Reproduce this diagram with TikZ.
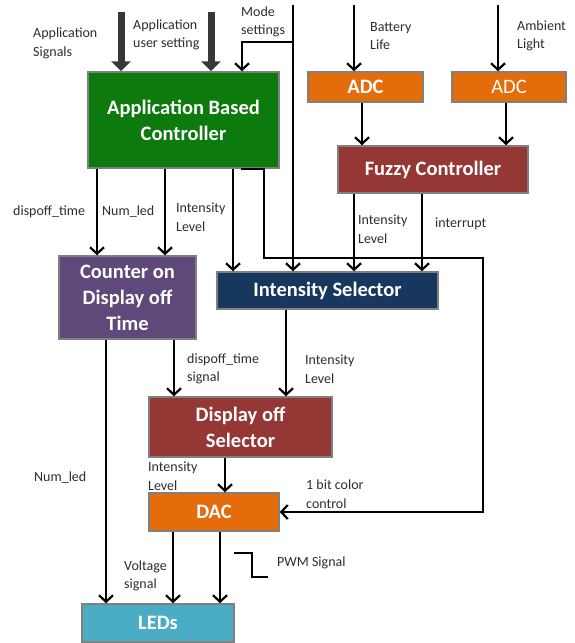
\documentclass[tikz,border=0pt]{standalone}
\usepackage{fontspec}
\setmainfont{Carlito}
\usetikzlibrary{arrows.meta}
\definecolor{appgreen}{RGB}{12,122,12}
\definecolor{adcorange}{RGB}{228,108,10}
\definecolor{ctrlred}{RGB}{149,55,53}
\definecolor{cntpurple}{RGB}{95,73,122}
\definecolor{selnavy}{RGB}{23,55,94}
\definecolor{ledaqua}{RGB}{75,172,198}
\definecolor{boxgray}{RGB}{128,128,128}
\definecolor{busgray}{RGB}{55,55,55}
\definecolor{lbltext}{RGB}{45,45,45}
\tikzset{
  blk/.style={draw=boxgray,line width=1.5pt,text=white,align=center,inner sep=2pt,
    font=\fontsize{20.5}{26}\selectfont\bfseries},
  lbl/.style={anchor=west,align=left,inner sep=0pt,text=lbltext,
    font=\fontsize{14}{18.5}\selectfont},
  sig/.style={line width=2.2pt,-{Straight Barb[length=6.5pt,width=14pt,line width=2.2pt]}},
  bus/.style={line width=7pt,draw=busgray,-{Triangle[length=10pt,width=19pt]}}
}
\begin{document}
\begin{tikzpicture}[x=1pt,y=-1pt]
	\useasboundingbox (0,0) rectangle (574,643);
	% blocks
	\node[blk,fill=appgreen,minimum width=191pt,minimum height=96pt] (abc) at (183.5,120) {Application Based\\Controller};
	\node[blk,fill=adcorange,minimum width=115pt,minimum height=30pt] (adcb) at (365.5,87) {ADC};
	\node[blk,fill=adcorange,minimum width=114pt,minimum height=30pt,font=\fontsize{20.5}{26}\selectfont] (adca) at (509,87) {ADC};
	\node[blk,fill=ctrlred,minimum width=190pt,minimum height=47pt] (fuzzy) at (433,169.5) {Fuzzy Controller};
	\node[blk,fill=cntpurple,minimum width=137pt,minimum height=83pt] (cnt) at (127.5,297.5) {Counter on\\Display off\\Time};
	\node[blk,fill=selnavy,minimum width=221pt,minimum height=37pt] (insel) at (327.5,290.5) {Intensity Selector};
	\node[blk,fill=ctrlred,minimum width=183pt,minimum height=60pt] (dos) at (240.5,427) {Display off\\Selector};
	\node[blk,fill=adcorange,minimum width=130pt,minimum height=38pt] (dac) at (214,512) {DAC};
	\node[blk,fill=ledaqua,minimum width=152pt,minimum height=38pt] (leds) at (158,623) {LEDs};
	% inputs
	\coordinate (appsig) at (121,12);
	\coordinate (appusr) at (211,12);
	\coordinate (mode) at (293,5);
	\coordinate (batt) at (354,5);
	\coordinate (amb) at (498,5);
	\draw[bus] (appsig) -- (appsig |- abc.north);
	\draw[bus] (appusr) -- (appusr |- abc.north);
	\draw[sig] (mode) -- (mode |- insel.north);
	\draw[sig] (mode |- 0,42) -- (242,42) -- (abc.north -| 242,0);
	\draw[sig] (batt) -- (batt |- adcb.north);
	\draw[sig] (amb) -- (amb |- adca.north);
	% adc to fuzzy
	\draw[sig] (adcb.south -| 362,0) -- (fuzzy.north -| 362,0);
	\draw[sig] (adca.south -| 506,0) -- (fuzzy.north -| 506,0);
	% controller outputs
	\draw[sig] (abc.south -| 97,0) -- (cnt.north -| 97,0);
	\draw[sig] (abc.south -| 165,0) -- (cnt.north -| 165,0);
	\draw[sig] (abc.south -| 233,0) -- (insel.north -| 233,0);
	\draw[sig] (fuzzy.south -| 354,0) -- (insel.north -| 354,0);
	\draw[sig] (fuzzy.south -| 422,0) -- (insel.north -| 422,0);
	% colour control
	\coordinate (cc) at (483,258);
	\draw[sig] (abc.south -| 241,0) -- (abc.south -| 264,0) -- (264,258) -- (cc) -- (cc |- dac.east) -- (dac.east);
	% lower chain
	\draw[sig] (cnt.south -| 106,0) -- (leds.north -| 106,0);
	\draw[sig] (cnt.south -| 174,0) -- (dos.north -| 174,0);
	\draw[sig] (insel.south -| 286,0) -- (dos.north -| 286,0);
	\draw[sig] (dos.south -| 225,0) -- (dac.north -| 225,0);
	\draw[sig] (dac.south -| 173,0) -- (leds.north -| 173,0);
	\draw[sig] (dac.south -| 220,0) -- (leds.north -| 220,0);
	% pwm symbol
	\draw[line width=2.2pt] (234,553) -- (252,553) -- (252,577) -- (268,577);
	% labels
	\node[lbl] (lappsig) at (33,43.5) {Application\\Signals};
	\node[lbl] (lappusr) at (133,35) {Application\\user setting};
	\node[lbl] (lmode) at (241,22) {Mode\\settings};
	\node[lbl] (lbatt) at (370,36) {Battery\\Life};
	\node[lbl] (lamb) at (517,36) {Ambient\\Light};
	\node[lbl] (ldisp) at (13,212) {dispoff\_time};
	\node[lbl] (lnum) at (102,212) {Num\_led};
	\node[lbl] (lint) at (176,217) {Intensity\\Level};
	\node[lbl] (lfint) at (358,229) {Intensity\\Level};
	\node[lbl] (lintr) at (435,224) {interrupt};
	\node[lbl] (ldsig) at (187,369) {dispoff\_time\\signal};
	\node[lbl] (lsint) at (305,369) {Intensity\\Level};
	\node[lbl] (lnumb) at (34,478) {Num\_led};
	\node[lbl] (ldint) at (148,476) {Intensity\\Level};
	\node[lbl] (lcol) at (306,494) {1 bit color\\control};
	\node[lbl] (lvolt) at (124,576) {Voltage\\signal};
	\node[lbl] (lpwm) at (277,563) {PWM Signal};
\end{tikzpicture}
\end{document}
